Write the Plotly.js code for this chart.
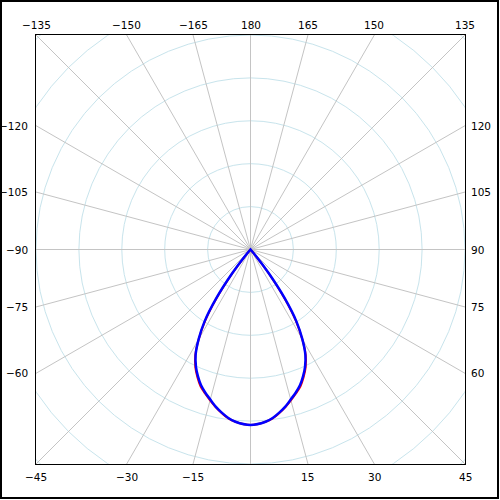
<!DOCTYPE html>
<html>
<head>
<meta charset="utf-8">
<script src="https://cdn.plot.ly/plotly-3.0.1.min.js"></script>
<style>
  html, body { margin: 0; padding: 0; background: #fff; }
  #plot { width: 500px; height: 500px; }
</style>
</head>
<body>
<div id="plot"></div>
<script>
// Photometric polar curve (angles in degrees, 0 = straight down, positive to the right)
const halfAngles = [0, 5, 7.5, 10, 12.5, 15, 17.5, 20, 22.5, 25, 27.5, 30, 32.5, 35, 37.5, 40, 42.5, 45, 60, 90, 120, 150, 180];
const blueHalf   = [409, 403, 396, 386, 375, 362, 350, 337, 320, 301, 277, 242, 200, 140, 70, 19, 0, 0, 0, 0, 0, 0, 0];
const redHalf    = [409, 403, 397, 387, 376, 364, 352, 340, 323, 304, 279, 241, 196, 134, 64, 16, 0, 0, 0, 0, 0, 0, 0];

const ringValues = [100, 200, 300, 400, 500, 600, 700];
const spokeAngles = [-165, -150, -135, -120, -105, -90, -75, -60, -45, -30, -15, 0, 15, 30, 45, 60, 75, 90, 105, 120, 135, 150, 165, 180];

const bottomLabels = [-45, -30, -15, 15, 30, 45];
const topLabels    = [-135, -150, -165, 180, 165, 150, 135];
const leftLabels   = [-120, -105, -90, -75, -60];
const rightLabels  = [120, 105, 90, 75, 60];

const RMAX = 500;

function mirror(angles, vals) {
  const th = [], r = [];
  for (let i = angles.length - 1; i > 0; i--) { th.push(-angles[i]); r.push(vals[i]); }
  for (let i = 0; i < angles.length; i++) { th.push(angles[i]); r.push(vals[i]); }
  return {th, r};
}
const blue = mirror(halfAngles, blueHalf);
const red = mirror(halfAngles, redHalf);

function edge(deg) {
  const a = deg * Math.PI / 180;
  const s = Math.sin(a), c = -Math.cos(a);
  const k = RMAX / Math.max(Math.abs(s), Math.abs(c));
  return [Math.round(s * k * 1e6) / 1e6, Math.round(c * k * 1e6) / 1e6];
}
function fmt(d) { return d < 0 ? '\u2212' + Math.abs(d) : String(d); }

const shapes = [];
ringValues.forEach(r => shapes.push({
  type: 'circle', xref: 'x', yref: 'y', x0: -r, x1: r, y0: -r, y1: r,
  line: {color: '#c8e4ec', width: 1}, layer: 'below'
}));
spokeAngles.forEach(d => {
  const a = d * Math.PI / 180;
  shapes.push({
    type: 'line', xref: 'x', yref: 'y', x0: 0, y0: 0,
    x1: Math.sin(a) * 800, y1: -Math.cos(a) * 800,
    line: {color: '#c4c4c4', width: 1}, layer: 'below'
  });
});
// outer frame of the picture
const L = 36, T = 35, W = 429;
shapes.push({
  type: 'rect', xref: 'paper', yref: 'paper',
  x0: (1 - L) / W, x1: (498 - L) / W,
  y0: (T + W - 498) / W, y1: (T + W - 1) / W,
  line: {color: '#000', width: 2}, fillcolor: 'rgba(0,0,0,0)'
});

const font = {family: 'DejaVu Sans, sans-serif', size: 10.5, color: '#000'};
const annotations = [];
bottomLabels.forEach(d => annotations.push({
  xref: 'x', yref: 'paper', x: edge(d)[0], y: 0, yshift: -13, text: fmt(d),
  showarrow: false, xanchor: 'center', yanchor: 'middle', font
}));
topLabels.forEach(d => annotations.push({
  xref: 'x', yref: 'paper', x: edge(d)[0], y: 1, yshift: 10, text: fmt(d),
  showarrow: false, xanchor: 'center', yanchor: 'middle', font
}));
leftLabels.forEach(d => annotations.push({
  xref: 'paper', yref: 'y', x: 0, y: edge(d)[1], xshift: -6, text: fmt(d),
  showarrow: false, xanchor: 'right', yanchor: 'middle', font
}));
rightLabels.forEach(d => annotations.push({
  xref: 'paper', yref: 'y', x: 1, y: edge(d)[1], xshift: 4, text: fmt(d),
  showarrow: false, xanchor: 'left', yanchor: 'middle', font
}));

const data = [
  {type: 'scatter', x: [], y: [], hoverinfo: 'skip', showlegend: false},
  {type: 'scatterpolar', theta: red.th, r: red.r, mode: 'lines',
   line: {color: '#ff0000', width: 2, shape: 'spline', smoothing: 0.8}, showlegend: false},
  {type: 'scatterpolar', theta: blue.th, r: blue.r, mode: 'lines',
   line: {color: '#0000ff', width: 2.5, shape: 'spline', smoothing: 0.8}, showlegend: false}
];

const layout = {
  width: 500, height: 500,
  margin: {l: L, r: 500 - L - W, t: T, b: 500 - T - W, pad: 0},
  paper_bgcolor: '#fff', plot_bgcolor: '#fff',
  showlegend: false,
  xaxis: {range: [-RMAX, RMAX], showgrid: false, zeroline: false, showticklabels: false,
          ticks: '', showline: true, mirror: true, linecolor: '#000', linewidth: 1, fixedrange: true},
  yaxis: {range: [-RMAX, RMAX], showgrid: false, zeroline: false, showticklabels: false,
          ticks: '', showline: true, mirror: true, linecolor: '#000', linewidth: 1, fixedrange: true},
  polar: {
    domain: {x: [0, 1], y: [0, 1]},
    bgcolor: 'rgba(0,0,0,0)',
    radialaxis: {range: [0, RMAX], visible: false},
    angularaxis: {rotation: -90, direction: 'counterclockwise', visible: false}
  },
  shapes, annotations
};

Plotly.newPlot('plot', data, layout, {staticPlot: true, displayModeBar: false});
</script>
</body>
</html>
